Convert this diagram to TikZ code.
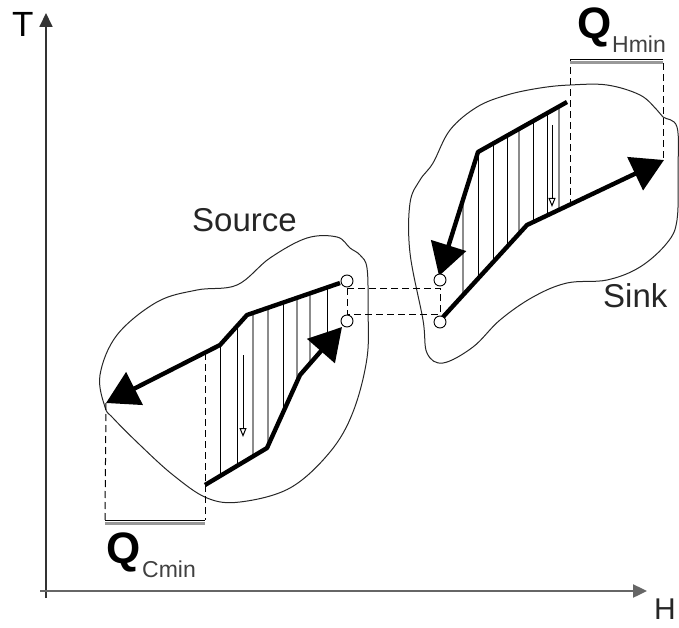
\documentclass[tikz,border=0pt]{standalone}
\usepackage{fontspec}
\setmainfont{Liberation Sans}
\usetikzlibrary{arrows.meta}
\begin{document}
\begin{tikzpicture}[x=1pt,y=-1pt,
  curveline/.style={line width=4.4pt, line join=round},
  bigtip/.style={-{Triangle[length=32pt,width=36pt]}},
  blob/.style={line width=1pt, black!85},
  hatchk/.style={line width=1pt, black},
  hatchg/.style={line width=1.1pt, black!45},
  dashline/.style={line width=1pt, dash pattern=on 7pt off 4pt},
  port/.style={circle, draw, fill=white, line width=0.9pt, minimum size=12pt, inner sep=0pt},
  lbl/.style={anchor=base west, inner sep=0pt, font=\fontsize{33}{33}\selectfont, text=black!85},
  qbig/.style={anchor=base west, inner sep=0pt, font=\fontsize{44}{44}\selectfont\bfseries},
  qsub/.style={anchor=base west, inner sep=0pt, font=\fontsize{23}{23}\selectfont, text=black!75},
  hollow/.style={line width=1pt, -{Triangle[open, length=9pt, width=7pt]}},
  axis/.style={line width=1.8pt, black!80, -{Triangle[length=14pt,width=13pt]}},
  bracketg/.style={line width=3pt, black!40},
  bracketk/.style={line width=1pt}]
\useasboundingbox (0,0) rectangle (679,628);

% axes
\coordinate (yb) at (46,598);
\coordinate (yt) at (46,13);
\coordinate (xl) at (40,591);
\coordinate (xr) at (647,591);
\draw[axis] (yb) -- (yt);
\draw[axis, black!60, line width=2.4pt] (xl) -- (xr);
\node[anchor=base west, inner sep=0pt, font=\fontsize{35}{35}\selectfont] (tl) at (12,37) {T};
\node[anchor=base west, inner sep=0pt, font=\fontsize{30}{30}\selectfont, text=black!85] (hl) at (654,619) {H};

% source region outline
\draw[blob] plot[smooth cycle, tension=0.6] coordinates {
  (105,407) (100,375) (117,335) (157,302) (197,290) (237,285) (270,258)
  (307,238) (337,237) (350,248) (360,255) (367,268) (368,308) (367,358)
  (353,412) (330,452) (290,488) (240,502) (207,498) (173,475) (140,445) (113,418)};

% sink region outline
\draw[blob] plot[smooth cycle, tension=0.6] coordinates {
  (570,85) (607,85) (640,95) (657,110) (663,117) (677,127) (678,170) (677,220)
  (667,243) (640,267) (607,280) (567,283) (533,297) (500,320) (473,347)
  (443,363) (427,353) (423,320) (410,253) (410,203) (420,180) (433,163)
  (450,130) (477,107) (507,95) (540,88)};

% source curve points
\coordinate (su1) at (340,283);
\coordinate (su2) at (247,315);
\coordinate (su3) at (220,345);
\coordinate (suT) at (106,403);
\coordinate (sl0) at (205,485);
\coordinate (sl1) at (267,448);
\coordinate (sl2) at (300,375);
\coordinate (slT) at (342,327);

% sink curve points
\coordinate (ku0) at (567,102);
\coordinate (ku1) at (478,152);
\coordinate (kuT) at (439,276);
\coordinate (kl0) at (443,317);
\coordinate (kl1) at (527,225);
\coordinate (klT) at (664,160);

% hatching between the source curves
\begin{scope}
  \clip (su3) -- (su2) -- (su1) -- (345,300) -- (slT) -- (sl2) -- (sl1) -- (sl0) -- (205,352) -- cycle;
  \foreach \x/\s in {220/hatchk, 237/hatchk, 253/hatchg, 268/hatchg, 283/hatchk, 297/hatchg, 310/hatchg, 327/hatchk}
    \draw[\s] (\x,240) -- (\x,500);
\end{scope}

% hatching between the sink curves
\begin{scope}
  \clip (ku0) -- (ku1) -- (kuT) -- (kl0) -- (kl1) -- (570,205) -- (570,100) -- cycle;
  \foreach \x/\s in {463/hatchg, 478/hatchk, 493/hatchk, 507/hatchk, 519/hatchg, 533/hatchk, 547/hatchk, 559/hatchg}
    \draw[\s] (\x,90) -- (\x,330);
\end{scope}

% Q bracket of the source
\coordinate (qcL) at (105,520);
\coordinate (qcR) at (205,520);
\draw[dashline] (suT) -- (qcL);
\draw[dashline] (205,353) -- (qcR);
\draw[bracketg] (105,523) -- (205,523);
\draw[bracketk] (qcL) -- (qcR);

% Q bracket of the sink
\coordinate (qhL) at (570,60);
\coordinate (qhR) at (663,60);
\draw[dashline] (570,206) -- (qhL);
\draw[dashline] (663,158) -- (qhR);
\draw[bracketg] (570,63) -- (663,63);
\draw[bracketk] (qhL) -- (qhR);

% link between the two regions
\draw[dashline] (347,288) rectangle (440,314);

% heat flow arrows
\draw[hollow] (243,355) -- (243,437);
\draw[hollow] (552,125) -- (552,207);

% composite curves
\draw[curveline, bigtip] (su1) -- (su2) -- (su3) -- (suT);
\draw[curveline, bigtip] (sl0) -- (sl1) -- (sl2) -- (slT);
\draw[curveline, bigtip] (ku0) -- (ku1) -- (kuT);
\draw[curveline, bigtip] (kl0) -- (kl1) -- (klT);

% end ports
\node[port] (sc1) at (347,281) {};
\node[port] (sc2) at (347,321) {};
\node[port] (kc1) at (440,280) {};
\node[port] (kc2) at (440,322) {};

% labels
\node[lbl] (src) at (192,232) {Source};
\node[lbl] (snk) at (603,307) {Sink};
\node[qbig] (qc) at (106,563) {Q};
\node[qsub] (qcs) at (142,577) {Cmin};
\node[qbig] (qh) at (577,39) {Q};
\node[qsub] (qhs) at (612,53) {Hmin};
\end{tikzpicture}
\end{document}
